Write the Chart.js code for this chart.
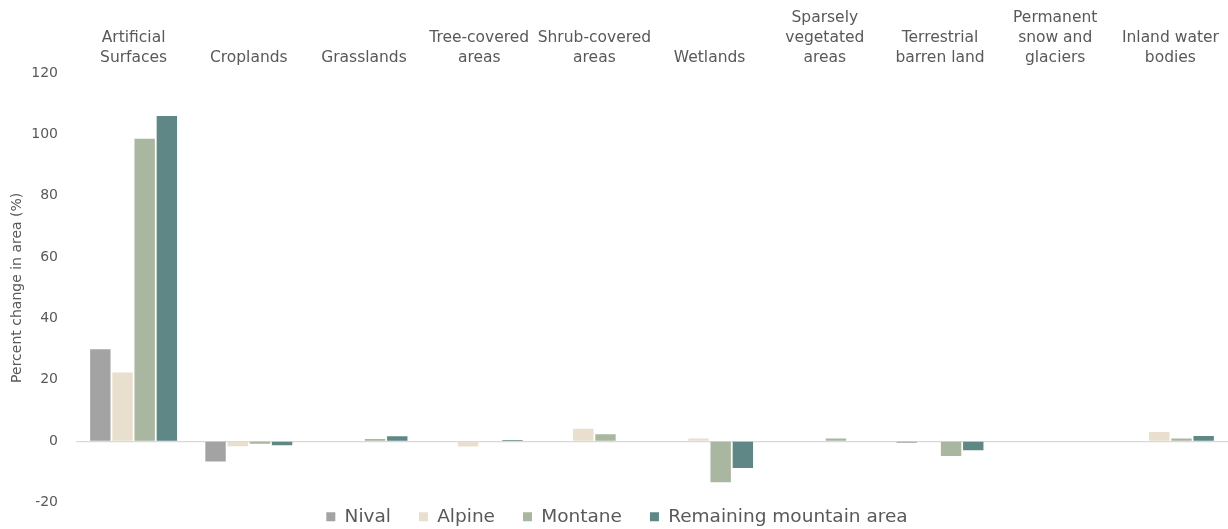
<!DOCTYPE html>
<html>
<head>
<meta charset="utf-8">
<script src="https://cdn.jsdelivr.net/npm/chart.js@4"></script>
<style>
  html, body { margin: 0; padding: 0; background: #ffffff; }
  #wrap { width: 1228px; height: 529px; }
</style>
</head>
<body>
<div id="wrap"><canvas id="c" width="1228" height="529"></canvas></div>
<script>
const categories = [
  ["Artificial", "Surfaces"],
  "Croplands",
  "Grasslands",
  ["Tree-covered", "areas"],
  ["Shrub-covered", "areas"],
  "Wetlands",
  ["Sparsely", "vegetated", "areas"],
  ["Terrestrial", "barren land"],
  ["Permanent", "snow and", "glaciers"],
  ["Inland water", "bodies"]
];
const seriesNames = ["Nival", "Alpine", "Montane", "Remaining mountain area"];
const nival     = [30.0, -6.6, 0.0,  0.0, 0.0,   0.0, 0.0, -0.5, 0.0, 0.0];
const alpine    = [22.4, -1.6, 0.0, -1.7, 4.1,   0.9, 0.0,  0.0, 0.0, 3.0];
const montane   = [98.6, -0.8, 0.7,  0.0, 2.3, -13.4, 0.9, -4.8, 0.0, 0.9];
const remaining = [106.0, -1.3, 1.6, 0.4, 0.0,  -8.7, 0.0, -2.9, 0.0, 1.7];
const yTicks = [-20, 0, 20, 40, 60, 80, 100, 120];
const yTitle = "Percent change in area (%)";

const colors = ["#a3a3a3", "#e8dfcf", "#a9b6a0", "#5f8786"];
const textColor = "#595959";
const FONT = "'DejaVu Sans', sans-serif";

const seriesData = [nival, alpine, montane, remaining];
const datasets = seriesNames.map((name, i) => ({
  label: name,
  data: seriesData[i],
  backgroundColor: colors[i],
  borderWidth: 0,
  barPercentage: 0.92,
  categoryPercentage: 0.77
}));

// Legend: wide gaps between items, but keep it close under the plot.
const legendShift = {
  id: "legendShift",
  afterLayout(chart) {
    const lg = chart.legend;
    if (lg) { lg.top -= 23; lg.bottom -= 23; }
  }
};

new Chart(document.getElementById("c"), {
  type: "bar",
  data: { labels: categories, datasets: datasets },
  plugins: [legendShift],
  options: {
    responsive: false,
    animation: false,
    layout: { padding: { top: 3, left: 6, right: 0, bottom: -44.5 } },
    plugins: {
      tooltip: { enabled: false },
      legend: {
        position: "bottom",
        labels: {
          boxWidth: 9,
          boxHeight: 9,
          padding: 28,
          color: textColor,
          font: { family: FONT, size: 18.5 }
        }
      }
    },
    scales: {
      x: {
        position: "top",
        grid: { display: false, drawTicks: false },
        border: { display: false },
        ticks: {
          autoSkip: false,
          maxRotation: 0,
          minRotation: 0,
          padding: 5,
          color: textColor,
          font: { family: FONT, size: 15.5, lineHeight: 1.29 }
        }
      },
      y: {
        min: yTicks[0],
        max: yTicks[yTicks.length - 1],
        afterFit: (scale) => { scale.width = 70; },
        afterBuildTicks: (scale) => { scale.ticks = yTicks.map(v => ({ value: v })); },
        grid: {
          drawTicks: false,
          color: (ctx) => (ctx.tick && ctx.tick.value === 0 ? "#d9d9d9" : "rgba(0,0,0,0)"),
          lineWidth: 1.2
        },
        border: { display: false },
        ticks: {
          padding: 18,
          color: textColor,
          font: { family: FONT, size: 14 }
        },
        title: {
          display: true,
          text: yTitle,
          color: textColor,
          font: { family: FONT, size: 14 },
          padding: { top: 3, bottom: 3 }
        }
      }
    }
  }
});
</script>
</body>
</html>
